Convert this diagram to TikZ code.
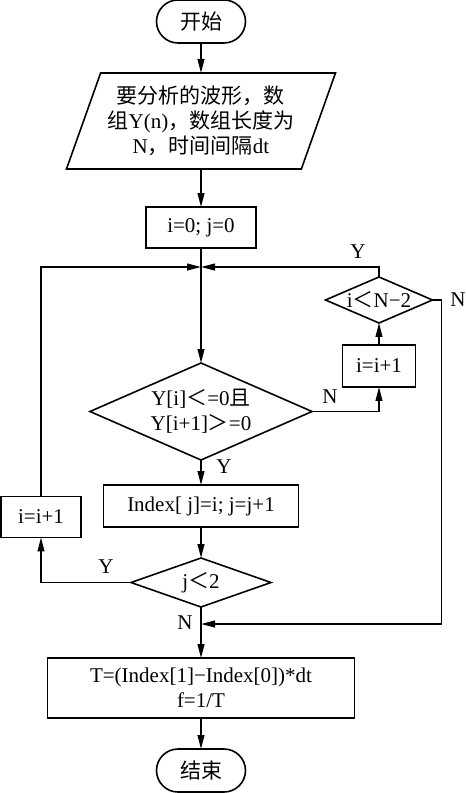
\documentclass[tikz,border=0pt]{standalone}
\usepackage{fontspec}
\setmainfont{Liberation Serif}
\newfontfamily\cjk{Noto Sans CJK SC}
\usepackage{tikz}
\usetikzlibrary{arrows.meta,positioning,shapes.geometric}

\begin{document}
\begin{tikzpicture}[
  x=0.5pt,
  y=0.5pt,
  terminal/.style={
    draw,
    rounded corners=10.75pt,
    minimum width=44.5pt,
    minimum height=21.5pt,
    inner sep=0pt
  },
  process/.style={
    draw,
    rectangle,
    align=center,
    inner sep=0pt
  },
  decide/.style={
    draw,
    diamond,
    align=center,
    inner sep=0pt
  },
  io/.style={
    draw,
    trapezium,
    trapezium left angle=64,
    trapezium right angle=116,
    trapezium stretches body,
    align=center,
    inner sep=0pt,
    minimum width=134.5pt,
    minimum height=48pt
  },
  flow/.style={
    -{Triangle[length=7pt,width=3.4pt]}
  },
  every node/.append style={font=\fontsize{10.5}{12.5}\selectfont, outer sep=0pt},
  line width=0.8pt,
  node distance=15pt
]

\useasboundingbox (0,0) rectangle (466,793);

% Main column
\node[terminal] (start) at (201,771.5) {\cjk 开始};

\node[io, below=15pt of start] (input) {
  {\cjk 要分析的波形，数}\\
  {\cjk 组}Y(n){\cjk ，数组长度为}\\
  N{\cjk ，时间间隔}dt
};

\node[process, minimum width=55pt, minimum height=20.5pt,
  below=19pt of input] (init) {i=0; j=0};
\coordinate[below=9.5pt of init] (join);

\node[decide, aspect=2.29, minimum width=111pt, minimum height=48.5pt,
  below=57.5pt of init] (cond) {
  Y[i]{\cjk ＜}=0{\cjk 且}\\
  Y[i+1]{\cjk ＞}=0
};

\node[process, minimum width=97.5pt, minimum height=21pt,
  below=12.5pt of cond] (index) {Index[ j]=i; j=j+1};

\node[decide, aspect=2.86, minimum width=70pt, minimum height=24.5pt,
  below=15.5pt of index] (loop) {j{\cjk ＜}2};

\node[process, minimum width=153.5pt, minimum height=30pt,
  below=25.5pt of loop] (result) {
  T=(Index[1]−Index[0])*dt\\
  f=1/T
};
\coordinate[above=17pt of result] (merge);

\node[terminal, below=15.5pt of result] (stop) {\cjk 结束};

% Side branches
\node[decide, aspect=2.33, inner xsep=-2pt, minimum width=53.5pt,
  minimum height=23pt] (check) at (379,493) {i{\cjk ＜}N−2};
\node[process, minimum width=36.5pt, minimum height=21pt] (incR) at (379,427) {i=i+1};
\node[process, minimum width=40pt, minimum height=20.5pt] (incL) at (41,276) {i=i+1};

% Branch labels
\node (lblCheckY) at (358,541) {Y};
\node (lblCheckN) at (458,493) {N};
\node (lblCondN) at (330,396) {N};
\node (lblCondY) at (224,326) {Y};
\node (lblLoopY) at (106,226) {Y};
\node (lblLoopN) at (185,170) {N};

\draw[flow] (start) -- (input);
\draw[flow] (input) -- (init);
\draw[flow] (init) -- (cond);
\draw[flow] (cond) -- (index);
\draw[flow] (index) -- (loop);
\draw[flow] (loop) -- (result);
\draw[flow] (result) -- (stop);

\draw[flow] (cond.east) -| (incR);
\draw[flow] (incR) -- (check);
\draw[flow] (check.north) |- (join);
\draw[flow] (check.east) -- ++(9,0) |- (merge);
\draw[flow] (loop.west) -| (incL);
\draw[flow] (incL) |- (join);

\end{tikzpicture}
\end{document}
